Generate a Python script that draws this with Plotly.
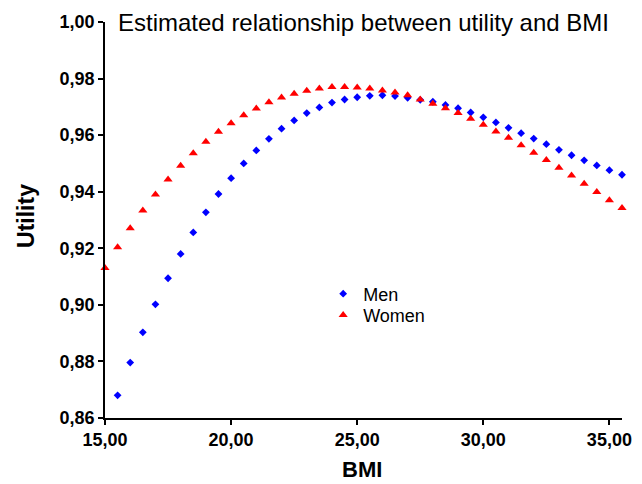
import plotly.graph_objects as go

bmi_men = [15.5 + 0.5 * i for i in range(41)]
utility_men = [0.8680, 0.8796, 0.8903, 0.9002, 0.9094, 0.9180, 0.9256, 0.9327, 0.9392, 0.9448,
               0.9500, 0.9546, 0.9587, 0.9623, 0.9652, 0.9678, 0.9698, 0.9715, 0.9726, 0.9734,
               0.9739, 0.9741, 0.9738, 0.9732, 0.9725, 0.9718, 0.9707, 0.9695, 0.9680, 0.9663,
               0.9645, 0.9626, 0.9607, 0.9588, 0.9568, 0.9548, 0.9529, 0.9511, 0.9493, 0.9476,
               0.9460]

bmi_women = [15.0 + 0.5 * i for i in range(42)]
utility_women = [0.9130, 0.9204, 0.9271, 0.9334, 0.9390, 0.9443, 0.9492, 0.9536, 0.9577, 0.9612,
                 0.9642, 0.9670, 0.9694, 0.9716, 0.9733, 0.9746, 0.9757, 0.9765, 0.9770, 0.9770,
                 0.9768, 0.9765, 0.9758, 0.9751, 0.9741, 0.9726, 0.9711, 0.9695, 0.9678, 0.9658,
                 0.9637, 0.9613, 0.9591, 0.9564, 0.9538, 0.9512, 0.9485, 0.9457, 0.9428, 0.9399,
                 0.9370, 0.9342]

x_ticks = [15, 20, 25, 30, 35]
y_ticks = [0.86, 0.88, 0.90, 0.92, 0.94, 0.96, 0.98, 1.00]

title_text = "Estimated relationship between utility and BMI"
x_title = "BMI"
y_title = "Utility"

fig = go.Figure()
fig.add_trace(go.Scatter(x=bmi_men, y=utility_men, mode="markers", name="Men",
                         marker=dict(symbol="diamond", size=6, color="#0000ff"),
                         cliponaxis=False, legend="legend"))
fig.add_trace(go.Scatter(x=bmi_women, y=utility_women, mode="markers", name="Women",
                         marker=dict(symbol="triangle-up", size=8, color="#ff0000"),
                         cliponaxis=False, legend="legend2"))

font_family = "Liberation Sans, Arial, sans-serif"
legend_common = dict(xanchor="left", yanchor="top", bgcolor="rgba(0,0,0,0)",
                     font=dict(size=18, family=font_family), itemwidth=30)

fig.update_layout(
    width=634, height=476,
    margin=dict(l=97, r=20, t=14, b=66),
    paper_bgcolor="white", plot_bgcolor="white",
    separators=",.",
    font=dict(family=font_family, color="black"),
    showlegend=True,
    legend=dict(x=0.422, y=0.36, **legend_common),
    legend2=dict(x=0.422, y=0.306, **legend_common),
    xaxis=dict(range=[15, 35.5], tickvals=x_ticks, tickformat=".2f", automargin=False,
               showline=True, linecolor="black", linewidth=1.5,
               ticks="outside", ticklen=5, tickcolor="black", tickwidth=1.5,
               showgrid=False, zeroline=False,
               tickfont=dict(size=18, family=font_family, weight="bold")),
    yaxis=dict(range=[0.86, 1.00], tickvals=y_ticks, tickformat=".2f", automargin=False,
               showline=True, linecolor="black", linewidth=1.5,
               ticks="outside", ticklen=5, tickcolor="black", tickwidth=1.5,
               showgrid=False, zeroline=False,
               tickfont=dict(size=18, family=font_family, weight="bold")),
    annotations=[
        dict(text=title_text, xref="paper", yref="paper", x=0.022, y=1.0,
             xanchor="left", yanchor="middle", showarrow=False,
             font=dict(size=24, family=font_family, color="black")),
        dict(text=x_title, xref="paper", yref="paper", x=0.497, y=-0.129,
             xanchor="center", yanchor="middle", showarrow=False,
             font=dict(size=22, family=font_family, color="black", weight="bold")),
        dict(text=y_title, xref="paper", yref="paper", x=-0.153, y=0.51,
             xanchor="center", yanchor="middle", showarrow=False, textangle=-90,
             font=dict(size=23, family=font_family, color="black", weight="bold")),
    ],
)

fig.write_html("out.html")
